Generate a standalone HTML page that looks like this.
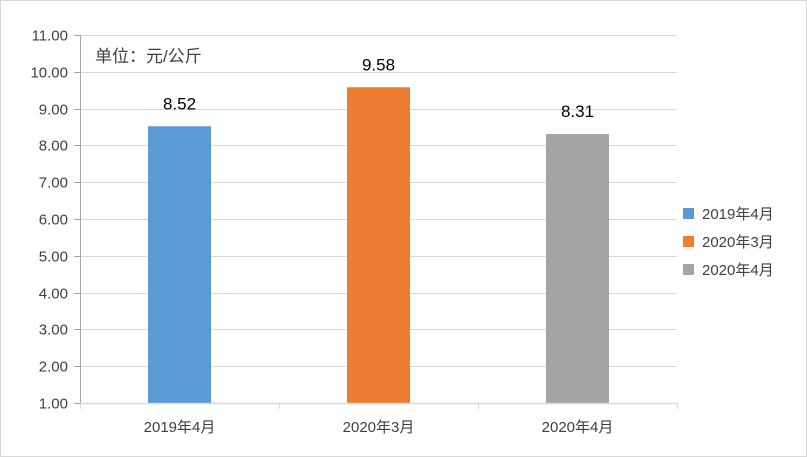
<!DOCTYPE html>
<html><head><meta charset="utf-8"><style>
body{margin:0;background:#fff;}
svg{display:block;font-family:"Liberation Sans","Noto Sans CJK SC",sans-serif;}
</style></head><body>
<svg id="chart" width="807" height="457">
<rect x="0.5" y="0.5" width="806" height="456" fill="#fff" stroke="#d9d9d9"/>
<g id="grid"></g><g id="bars"></g><g id="axes"></g>
<text x="95" y="62" font-size="17" fill="#404040">单位：元/公斤</text>
<g id="legend"></g>
</svg>
<script>
const categories=["2019年4月","2020年3月","2020年4月"];
const values=[8.52,9.58,8.31];
const labels=["8.52","9.58","8.31"];
const colors=["#5b9bd5","#ed7d31","#a5a5a5"];
const ticks=[1,2,3,4,5,6,7,8,9,10,11];
const NS="http://www.w3.org/2000/svg";
const x0=80,x1=677,yTop=35,yBot=403,vmin=1,vmax=11;
const y=v=>yBot-(v-vmin)/(vmax-vmin)*(yBot-yTop);
const bw=(x1-x0)/categories.length;
function mk(p,t,a){const e=document.createElementNS(NS,t);for(const k in a)e.setAttribute(k,a[k]);p.appendChild(e);return e;}
const grid=document.getElementById('grid'),axes=document.getElementById('axes'),bars=document.getElementById('bars'),leg=document.getElementById('legend');
ticks.forEach(t=>{
 const yy=Math.round(y(t))+0.5;
 if(t>vmin){const l=mk(grid,'line',{x1:x0,x2:x1,y1:yy,y2:yy,stroke:'#d9d9d9'});
 
 }
 const tk=mk(axes,'line',{x1:x0-6,x2:x0,y1:yy,y2:yy,stroke:'#a6a6a6'});
 
 
 const tx=mk(axes,'text',{x:x0-12,y:yy+5,'text-anchor':'end','font-size':15,fill:'#404040'});
 
 
 tx.textContent=t.toFixed(2);
});
const ya=mk(axes,'line',{x1:x0+0.5,x2:x0+0.5,y1:yTop,y2:yBot,stroke:'#a6a6a6'});


const xa=mk(axes,'line',{x1:x0,x2:x1,y1:yBot+0.5,y2:yBot+0.5,stroke:'#d9d9d9',"stroke-width":1.5});


for(let i=0;i<=categories.length;i++){
 const xx=Math.round(x0+i*bw)+0.5;
 const t=mk(axes,'line',{x1:xx,x2:xx,y1:yBot,y2:yBot+6,stroke:'#d9d9d9'});
 
 
}
categories.forEach((c,i)=>{
 const cx=x0+(i+0.5)*bw,w=63;
 const r=mk(bars,'rect',{x:cx-w/2,y:y(values[i]),width:w,height:yBot-y(values[i]),fill:colors[i]});
 
 
 const vl=mk(bars,'text',{x:cx,y:y(values[i])-17,'text-anchor':'middle','font-size':17,fill:'#000'});
 
 
 vl.textContent=labels[i];
 const xl=mk(axes,'text',{x:cx,y:432,'text-anchor':'middle','font-size':15,fill:'#404040'});
 
 
 xl.textContent=c;
 const ly=208+i*28;
 const g=mk(leg,'g',{});
 
 
 mk(g,'rect',{x:683,y:ly,width:11,height:11,fill:colors[i]});
 const lt=mk(g,'text',{x:702,y:ly+11,'font-size':15,fill:'#404040'});
 lt.textContent=c;
});
</script>
</body></html>
